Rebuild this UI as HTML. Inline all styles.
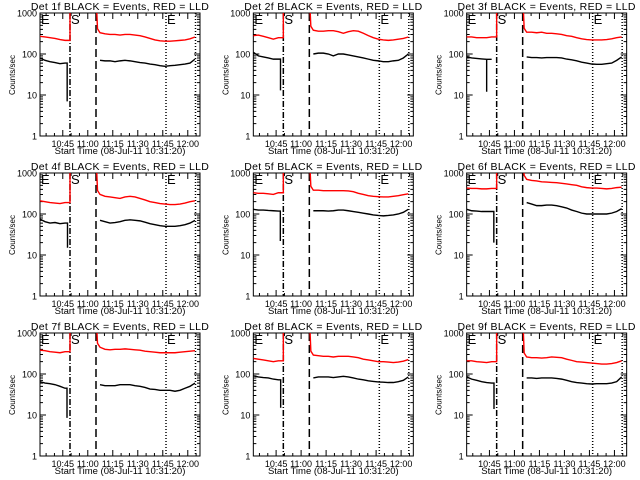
<!DOCTYPE html>
<html><head><meta charset="utf-8"><style>
html,body{margin:0;padding:0;background:#fff;}
svg{display:block;font-family:"Liberation Sans",sans-serif;}
</style></head><body>
<svg id="chart" width="640" height="480" viewBox="0 0 640 480" xmlns="http://www.w3.org/2000/svg"></svg>
<script>
const detNames = ["1f","2f","3f","4f","5f","6f","7f","8f","9f"];
const xTickLabels = ["10:45","11:00","11:15","11:30","11:45","12:00"];
const xTickMinutes = [13.667,28.667,43.667,58.667,73.667,88.667];
const yTickValues = [1,10,100,1000];
const eventMinutes = [18,33.6,75.6,93.3];
const preT = [0,3,6,9,12,15];
const postT = [36,39,42,45,48,51,54,57,60,63,66,69,72,75,78,81,84,87,90,93];
const spikeT = [16.3,16.3,12,16.5,16.2,16.3,16.2,16.4,16.4];
const redPre = [
[270,260,250,240,225,215],[280,290,270,250,230,250],[260,260,250,250,250,260],
[210,200,190,185,180,190],[330,320,320,310,300,330],[430,420,420,410,410,420],
[380,370,350,340,330,350],[240,230,220,210,200,210],[210,210,200,195,190,200]];
const redPost = [
[330,310,300,300,290,300,300,290,280,260,240,220,210,205,205,210,215,220,235,260],
[380,360,360,370,370,350,320,350,370,360,320,280,250,230,220,215,220,230,240,260],
[340,340,330,340,320,320,310,300,280,270,250,235,225,220,220,220,225,235,250,260],
[300,270,260,250,240,260,270,260,240,220,200,190,180,175,170,170,175,185,200,210],
[380,380,370,370,370,370,370,365,350,320,300,280,270,265,260,260,270,280,295,310],
[700,660,640,610,600,590,580,560,540,520,500,460,440,430,430,420,410,420,440,450],
[450,400,390,400,400,410,400,390,380,360,350,340,330,330,330,330,340,350,360,370],
[290,280,270,270,260,270,270,270,260,250,230,220,210,200,200,195,190,195,205,225],
[260,250,250,245,250,260,255,250,230,215,200,195,190,185,180,175,175,180,190,210]];
const blackPre = [
[80,70,65,62,58,60],[110,90,85,80,75,75],[85,80,78,76,74,74],
[75,65,60,62,58,60],[130,125,125,122,120,118],[130,120,118,115,115,115],
[65,60,58,55,50,45],[90,85,82,80,75,72],[85,75,70,65,62,60]];
const blackSpike = [7,13,12,15,22,20,8.5,15,14];
const blackPost = [
[70,68,68,65,68,70,68,65,62,60,57,55,52,50,52,53,55,57,60,75],
[100,105,105,100,90,100,100,95,90,85,80,75,70,68,65,65,68,70,80,100],
[85,82,82,80,82,82,82,80,75,72,68,63,60,57,56,56,58,60,70,85],
[70,65,60,62,65,70,72,70,68,63,58,55,52,50,50,50,52,55,60,70],
[120,120,120,118,120,125,125,120,115,110,105,100,95,92,90,92,95,100,110,130],
[190,175,160,160,165,165,160,150,140,125,115,105,100,100,100,100,100,105,115,135],
[55,52,52,52,55,55,55,52,50,47,43,42,40,40,40,38,40,45,50,60],
[80,85,85,85,82,85,88,85,80,75,72,68,66,64,63,62,62,65,70,85],
[80,80,78,80,80,80,78,75,70,65,62,60,58,57,58,58,58,60,65,85]];

const NS="http://www.w3.org/2000/svg";
const svg=document.getElementById('chart');
function mk(tag,attrs,parent){const e=document.createElementNS(NS,tag);for(const k in attrs)e.setAttribute(k,attrs[k]);(parent||svg).appendChild(e);return e;}
const BX0=40,BX1=200,BY0=13,BY1=136,TMAX=96;
for(let p=0;p<9;p++){
  const ox=(p%3)*213.33, oy=Math.floor(p/3)*160;
  const g=mk('g',{transform:`translate(${ox.toFixed(2)},${oy})`});
  
  
  const xs=t=>BX0+t*(BX1-BX0)/TMAX;
  const ys=v=>BY1-Math.log10(Math.min(Math.max(v,0.5),3000))*(BY1-BY0)/3;
  const clipId='c'+p;
  const cp=mk('clipPath',{id:clipId},g);mk('rect',{x:BX0,y:BY0,width:BX1-BX0,height:BY1-BY0},cp);
  const tt=mk('text',{x:120,y:10,'font-size':10.5,'text-anchor':'middle','letter-spacing':'0.3'},g);tt.textContent='Det '+detNames[p]+' BLACK = Events, RED = LLD';
  
  
  const yl=mk('text',{x:0,y:0,'font-size':8,'text-anchor':'middle',transform:'translate(15,75) rotate(-90)'},g);yl.textContent='Counts/sec';
  
  
  const xl=mk('text',{x:120,y:154,'font-size':9.5,'text-anchor':'middle'},g);xl.textContent='Start Time (08-Jul-11 10:31:20)';
  
  
  const box=mk('rect',{x:BX0,y:BY0,width:BX1-BX0,height:BY1-BY0,fill:'none',stroke:'#000','stroke-width':1},g);
  
  
  let d='';
  for(let dec=0;dec<3;dec++)for(let m=2;m<10;m++){const y=ys(m*Math.pow(10,dec));d+=`M${BX0},${y}h3M${BX1},${y}h-3`;}
  yTickValues.forEach(v=>{const y=ys(v);d+=`M${BX0},${y}h6M${BX1},${y}h-6`;
    const l=mk('text',{x:BX0-3,y:y+3.5,'font-size':9,'text-anchor':'end'},g);l.textContent=String(v);
    
    });
  for(let t=3.667;t<TMAX;t+=5){const x=xs(t);d+=`M${x},${BY1}v-3M${x},${BY0}v3`;}
  xTickMinutes.forEach((t,i)=>{const x=xs(t);d+=`M${x},${BY1}v-6M${x},${BY0}v6`;
    const l=mk('text',{x:x,y:147,'font-size':9,'text-anchor':'middle'},g);l.textContent=xTickLabels[i];
    
    });
  mk('path',{d:d,stroke:'#000','stroke-width':1,fill:'none'},g);
  const dashes=['6,2,1,2','8,4','1,2','1,2'];
  eventMinutes.forEach((t,i)=>{const x=xs(t);const ln=mk('line',{x1:x,x2:x,y1:BY0,y2:BY1,stroke:'#000','stroke-width':1.5,'stroke-dasharray':dashes[i]},g);
    
    });
  const labs=[['E',BX0+1],['S',xs(eventMinutes[0])+1],['E',xs(eventMinutes[2])+1]];
  labs.forEach(a=>{const l=mk('text',{x:a[1],y:BY0+11,'font-size':13},g);l.textContent=a[0];
    
    });
  const dg=mk('g',{'clip-path':`url(#${clipId})`},g);
  let rd='M'+preT.map((t,i)=>xs(t)+','+ys(redPre[p][i])).join('L');
  rd+=`L${xs(eventMinutes[0])},${ys(redPre[p][5])}L${xs(eventMinutes[0])},${ys(3000)}`;
  rd+=`M${xs(eventMinutes[1])},${ys(3000)}L${xs(34.5)},${ys(redPost[p][0]*1.25)}L`+postT.map((t,i)=>xs(t)+','+ys(redPost[p][i])).join('L');
  const rp=mk('path',{d:rd,stroke:'#ff0000','stroke-width':1.4,fill:'none'},dg);
  
  
  let bd='M'+preT.map((t,i)=>xs(t)+','+ys(blackPre[p][i])).join('L');
  bd+=`L${xs(spikeT[p])},${ys(blackPre[p][5])}L${xs(spikeT[p])},${ys(blackSpike[p])}`;
  bd+='M'+postT.map((t,i)=>xs(t)+','+ys(blackPost[p][i])).join('L');
  const bp=mk('path',{d:bd,stroke:'#000','stroke-width':1.4,fill:'none'},dg);
  
  
}
</script>
</body></html>
